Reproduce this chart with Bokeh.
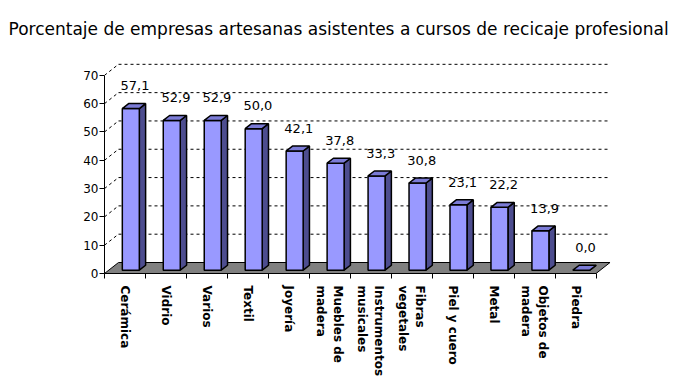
from bokeh.plotting import figure
from bokeh.models import FixedTicker
from bokeh.core.properties import value
from bokeh.embed import file_html
from bokeh.resources import INLINE

# ---- data ----
title_text = "Porcentaje de empresas artesanas asistentes a cursos de recicaje profesional"
categories = ["Cerámica", "Vidrio", "Varios", "Textil", "Joyería", "Muebles de\nmadera",
              "Instrumentos\nmusicales", "Fibras\nvegetales", "Piel y cuero", "Metal",
              "Objetos de\nmadera", "Piedra"]
values = [57.1, 52.9, 52.9, 50.0, 42.1, 37.8, 33.3, 30.8, 23.1, 22.2, 13.9, 0.0]
value_labels = ["57,1", "52,9", "52,9", "50,0", "42,1", "37,8", "33,3", "30,8",
                "23,1", "22,2", "13,9", "0,0"]
y_ticks = [0, 10, 20, 30, 40, 50, 60, 70]

# ---- geometry / style ----
FONT = "DejaVu Sans"
TOTAL_W = 680
X_END = 12.5
Y_END = 77.0
LEFT, FRAME_W, FRAME_H = 104, 512, 218
PX_X = FRAME_W / X_END
PX_Y = FRAME_H / Y_END
DX = 14 / PX_X          # depth offset in data units
DY = 11 / PX_Y
BAR_W = 17 / PX_X
F0, F1 = 0.30, 0.75     # depth fractions of bar front/back
C_SHIFT = 0.04

n = len(categories)

p = figure(frame_width=FRAME_W, frame_height=FRAME_H, x_range=(0, X_END), y_range=(0, Y_END),
           output_backend="svg", toolbar_location=None, title=title_text,
           min_border_left=LEFT, min_border_right=TOTAL_W - LEFT - FRAME_W,
           min_border_top=0, min_border_bottom=112)
p.outline_line_color = None
p.xgrid.visible = False
p.ygrid.visible = False

p.title.text_font = FONT
p.title.text_font_size = "17px"
p.title.text_font_style = "normal"
p.title.text_color = "black"
p.title.align = "left"
p.title.offset = 8 - LEFT
p.title.standoff = 33

# back wall gridlines + left wall diagonals
gy = [v + DY for v in y_ticks[1:]]
p.segment(x0=[DX] * len(gy), y0=gy, x1=[n + DX] * len(gy), y1=gy,
          line_color="black", line_dash="3 3", line_width=1)
p.segment(x0=[0] * len(gy), y0=y_ticks[1:], x1=[DX] * len(gy), y1=gy,
          line_color="black", line_dash="3 3", line_width=1)

# floor
p.patch(x=[0, n, n + DX, DX], y=[0, 0, DY, DY], fill_color="#808080",
        line_color="black", line_width=1)

# bars
fx, fy, sx, sy, tx, ty = [], [], [], [], [], []
bx = (F1 - F0) * DX
by = (F1 - F0) * DY
for i, v in enumerate(values):
    x0 = i + 0.5 + C_SHIFT - BAR_W / 2 + F0 * DX
    x1 = x0 + BAR_W
    y0 = F0 * DY
    y1 = y0 + v
    fx.append([x0, x1, x1, x0]); fy.append([y0, y0, y1, y1])
    sx.append([x1, x1 + bx, x1 + bx, x1]); sy.append([y0, y0 + by, y1 + by, y1])
    tx.append([x0, x1, x1 + bx, x0 + bx]); ty.append([y1, y1, y1 + by, y1 + by])
for i in range(n):
    p.patch(x=sx[i], y=sy[i], fill_color="#4D4D8F", line_color="black", line_width=1.5)
    p.patch(x=fx[i], y=fy[i], fill_color="#9999FF", line_color="black", line_width=1.5)
    p.patch(x=tx[i], y=ty[i], fill_color="#7B7BD6", line_color="black", line_width=1.5)

# value labels
p.text(x=[i + 0.5 for i in range(n)], y=values, text=value_labels,
       x_offset=10, y_offset=-26, text_align="center", text_baseline="middle",
       text_font=value(FONT), text_font_size="13px", text_color="black")

# y axis
p.yaxis.ticker = FixedTicker(ticks=y_ticks)
p.yaxis.bounds = (0, 70)
p.yaxis.axis_line_color = "black"
p.yaxis.major_tick_out = 5
p.yaxis.major_tick_in = 0
p.yaxis.minor_tick_line_color = None
p.yaxis.major_label_standoff = 1
p.yaxis.major_label_text_font = FONT
p.yaxis.major_label_text_font_size = "12px"
p.yaxis.major_label_text_color = "black"

# x axis
centers = [i + 0.5 for i in range(n)]
p.xaxis.ticker = FixedTicker(ticks=centers, minor_ticks=list(range(n + 1)))
p.xaxis.bounds = (0, n)
p.xaxis.major_label_overrides = {c: lab for c, lab in zip(centers, categories)}
p.xaxis.major_label_orientation = "vertical"
p.xaxis.axis_line_color = "black"
p.xaxis.major_tick_out = 0
p.xaxis.major_tick_in = 0
p.xaxis.minor_tick_out = 5
p.xaxis.minor_tick_in = 0
p.xaxis.minor_tick_line_color = "black"
p.xaxis.major_label_standoff = 7
p.xaxis.major_label_text_font = FONT
p.xaxis.major_label_text_font_size = "12px"
p.xaxis.major_label_text_font_style = "bold"
p.xaxis.major_label_text_color = "black"

open("out.html", "w").write(file_html(p, INLINE))
